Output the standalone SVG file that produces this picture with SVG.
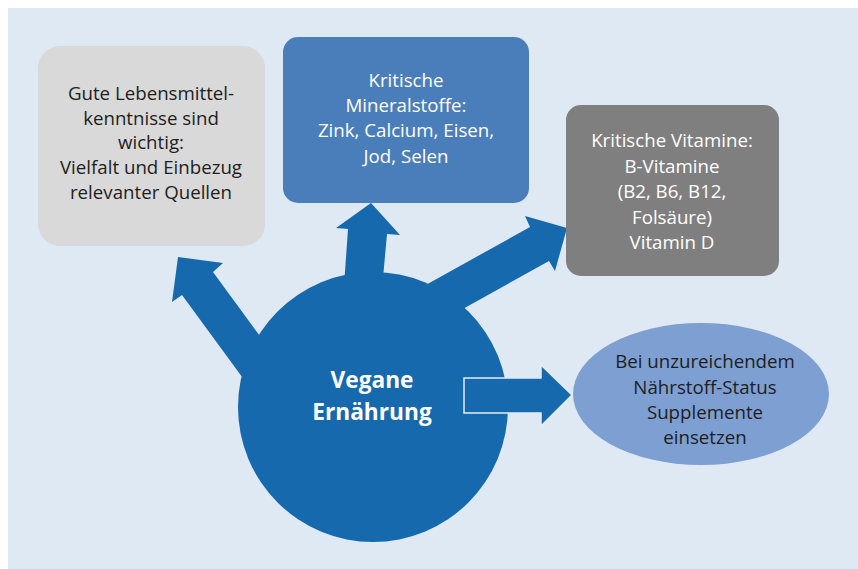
<svg xmlns="http://www.w3.org/2000/svg" width="858" height="569" viewBox="0 0 858 569">
<style>
.t{font-family:"Open Sans","Noto Sans","Liberation Sans",sans-serif;font-size:18.7px;text-anchor:middle}
.dark{fill:#1e1e1e}
.light{fill:#ffffff}
.arrow{fill:#1669ad}
.title{font-weight:bold;font-size:22.7px}
</style>
<rect x="8" y="8" width="850" height="561" fill="#dfe9f4"/>
<g id="connectors">
<polygon class="arrow" points="178,257 223,263 213,272 301,392 270,415 182,295 172,302"/>
<polygon class="arrow" points="371,203 400,235 387,234 381,300 343,300 348,229 336,228"/>
<polygon class="arrow" points="567,228 555,271 549,261 425,330 406,296 530,227 525,216"/>
</g>
<g id="center">
<circle cx="373" cy="407" r="135" fill="#1669ad"/>
<text class="t light title" x="372" y="388">Vegane</text>
<text class="t light title" x="372" y="420">Ernährung</text>
</g>
<g id="connector-right">
<polygon points="464,378 541,378 541,365 572,395 541,426 541,413 464,413" fill="#1669ad" stroke="#e4ecf5" stroke-width="1.5"/>
</g>
<g id="box-lebensmittel">
<rect x="38" y="46" width="227" height="200" rx="22" fill="#d9d9d9"/>
<text class="t dark" x="151" y="100">Gute Lebensmittel-</text>
<text class="t dark" x="151" y="124.5">kenntnisse sind</text>
<text class="t dark" x="151" y="149">wichtig:</text>
<text class="t dark" x="151" y="174">Vielfalt und Einbezug</text>
<text class="t dark" x="151" y="199">relevanter Quellen</text>
</g>
<g id="box-mineralstoffe">
<rect x="283" y="37" width="246" height="166" rx="15" fill="#4a7ebb"/>
<text class="t light" x="406" y="87">Kritische</text>
<text class="t light" x="406" y="112">Mineralstoffe:</text>
<text class="t light" x="406" y="137">Zink, Calcium, Eisen,</text>
<text class="t light" x="406" y="163">Jod, Selen</text>
</g>
<g id="box-vitamine">
<rect x="566" y="105" width="213" height="171" rx="15" fill="#7f7f7f"/>
<text class="t light" x="672" y="147">Kritische Vitamine:</text>
<text class="t light" x="672" y="173">B-Vitamine</text>
<text class="t light" x="672" y="198">(B2, B6, B12,</text>
<text class="t light" x="672" y="224">Folsäure)</text>
<text class="t light" x="672" y="249">Vitamin D</text>
</g>
<g id="ellipse-supplemente">
<ellipse cx="701" cy="394" rx="128" ry="71" fill="#7d9fd1"/>
<text class="t dark" x="705" y="368">Bei unzureichendem</text>
<text class="t dark" x="705" y="394">Nährstoff-Status</text>
<text class="t dark" x="705" y="419">Supplemente</text>
<text class="t dark" x="705" y="444">einsetzen</text>
</g>
</svg>
